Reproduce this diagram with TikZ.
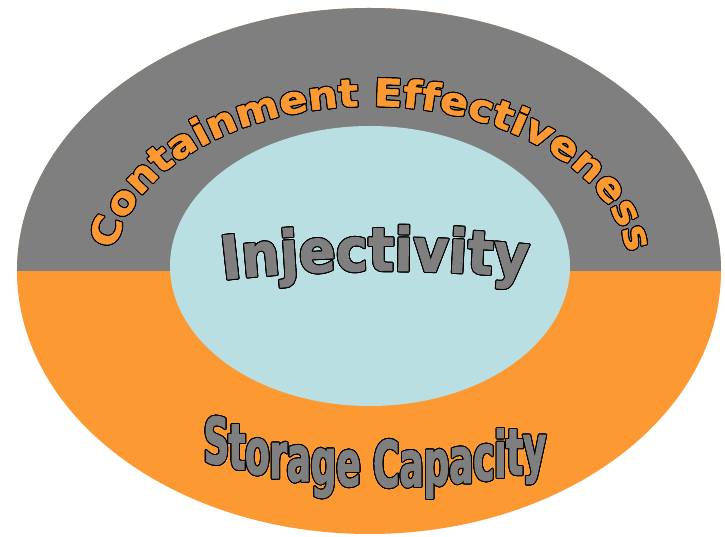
\documentclass[tikz,border=0pt]{standalone}
\usepackage{fontspec}
\usepackage{contour}
\usetikzlibrary{decorations.text}
\definecolor{ringgray}{RGB}{127,127,127}
\definecolor{ringorange}{RGB}{253,153,51}
\definecolor{corecyan}{RGB}{185,223,227}
\newfontfamily\arcfont[FakeStretch=1.1, FakeBold=1.5]{DejaVu Sans}
\newfontfamily\injfont[FakeStretch=0.9, FakeBold=1.5]{DejaVu Sans}
\newfontfamily\capfont[FakeStretch=0.56, FakeBold=1.5]{DejaVu Sans}
\contourlength{1pt}
\contournumber{24}
\newcommand{\outlined}[1]{\contour{black}{#1}}

\begin{document}
\begin{tikzpicture}[x=1pt, y=1pt,
		ring/.style={x radius=352, y radius=263},
		core/.style={x radius=200, y radius=140}
		]
		
		% Frame
		\useasboundingbox (0,0) rectangle (725,537);
		
		% Rings
		\fill[ringorange] (369,266) ellipse [ring];
		\fill[ringgray] (721,266) arc [start angle=0, end angle=180, ring] -- cycle;
		\fill[corecyan] (370,271) ellipse [core];
		
		% Containment Effectiveness
		\path[decorate, decoration={text effects along path,
			text={Containment Effectiveness}, text align=center,
			text effects/.cd, text along path, character command=\outlined,
			characters={text=ringorange, font=\arcfont\bfseries\fontsize{38}{38}\selectfont}}]
		(371,266) ++(176:258 and 165) arc [start angle=176, end angle=3, x radius=258, y radius=165];
		
		% Injectivity
		\path[decorate, decoration={text effects along path,
			text={Injectivity}, text align=center,
			text effects/.cd, text along path, character command=\outlined,
			characters={text=ringgray, font=\injfont\bfseries\fontsize{60}{60}\selectfont}}]
		(220,257) .. controls (320,269) and (430,269) .. (530,259);
		
		% Storage Capacity
		\path[decorate, decoration={text effects along path,
			text={Storage Capacity}, text align=center,
			text effects/.cd, text along path, character command=\outlined,
			characters={transform shape=false, text=ringgray, font=\capfont\bfseries\fontsize{64}{64}\selectfont}}]
		(200,79) .. controls (300,42) and (450,42) .. (550,71);
	\end{tikzpicture}
\end{document}
